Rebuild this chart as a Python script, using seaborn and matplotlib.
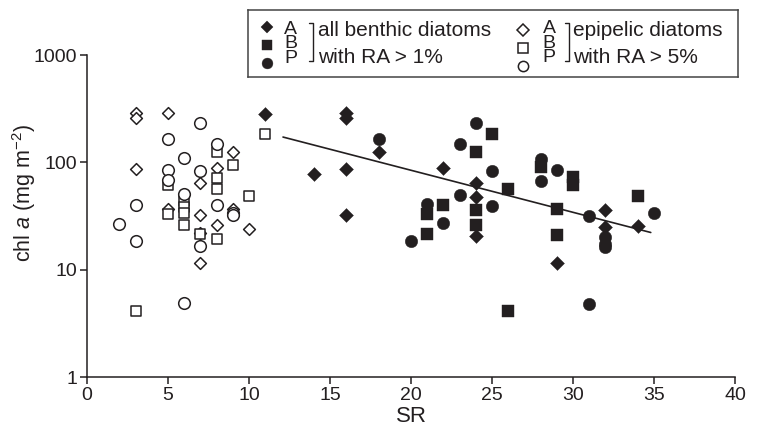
import matplotlib
matplotlib.use("Agg")
import matplotlib.pyplot as plt
import seaborn as sns
import pandas as pd
from matplotlib.ticker import NullLocator

# all benthic diatoms with RA > 1% (filled markers)
ben_A_sr = [11, 14, 16, 16, 16, 16, 18, 22, 24, 24, 24, 29, 32, 32, 34]
ben_A_chl = [284, 78, 288, 260, 87, 32, 125, 89, 64, 48, 20.5, 11.6, 36, 25, 25.4]
ben_B_sr = [21, 21, 22, 24, 24, 24, 25, 26, 26, 28, 29, 29, 30, 30, 34]
ben_B_chl = [33, 21.7, 40, 125, 36, 26, 182, 56, 4.1, 91, 37, 21, 73, 61, 49]
ben_P_sr = [18, 20, 21, 22, 23, 23, 24, 25, 25, 28, 28, 29, 31, 31, 32, 32, 32, 35]
ben_P_chl = [164, 18.5, 41, 27, 147, 50, 232, 83, 39, 108, 67, 84, 31.5, 4.8, 20, 17.5, 16.3, 33.4]

# epipelic diatoms with RA > 5% (open markers)
epi_A_sr = [3, 3, 3, 5, 5, 7, 7, 7, 7, 8, 8, 9, 9, 10]
epi_A_chl = [286, 257, 86, 288, 37, 64, 32, 22, 11.6, 89, 26, 125, 37, 24]
epi_B_sr = [3, 5, 5, 6, 6, 6, 6, 7, 8, 8, 8, 8, 9, 10, 11]
epi_B_chl = [4.1, 62, 33, 44, 38, 34, 26, 21.4, 125, 72, 57, 19.5, 94, 49, 185]
epi_P_sr = [2, 3, 3, 5, 5, 5, 6, 6, 6, 7, 7, 7, 8, 8, 9, 9]
epi_P_chl = [26.5, 40, 18.5, 164, 84, 68, 110, 51, 4.9, 231, 83, 16.6, 149, 40, 34, 32]

# regression line (benthic)
fit_sr = [12.1, 34.8]
fit_chl = [172, 22.2]

x_ticks = [0, 5, 10, 15, 20, 25, 30, 35, 40]
y_ticks = [1, 10, 100, 1000]
y_tick_labels = ["1", "10", "100", "1000"]
taxa = ["A", "B", "P"]

rows = []
for group, data in [("benthic", [(ben_A_sr, ben_A_chl), (ben_B_sr, ben_B_chl), (ben_P_sr, ben_P_chl)]),
                    ("epipelic", [(epi_A_sr, epi_A_chl), (epi_B_sr, epi_B_chl), (epi_P_sr, epi_P_chl)])]:
    for taxon, (xs, ys) in zip(taxa, data):
        for x, y in zip(xs, ys):
            rows.append({"group": group, "taxon": taxon, "SR": x, "chl": y})
df = pd.DataFrame(rows)

sns.set_theme(style="ticks")
plt.rcParams["font.family"] = ["Liberation Sans", "DejaVu Sans"]
plt.rcParams["mathtext.fontset"] = "custom"
plt.rcParams["mathtext.rm"] = "Liberation Sans"
plt.rcParams["mathtext.it"] = "Liberation Sans:italic"

ink = "#231f20"
markers = {"A": "D", "B": "s", "P": "o"}
filled_size = {"A": 50, "B": 66, "P": 80}
open_size = {"A": 36, "B": 62, "P": 70}

fig = plt.figure(figsize=(7.6, 4.37), dpi=100)
ax = fig.add_axes([87 / 760, 1 - 377 / 437, 648 / 760, 322 / 437])

for taxon in taxa:
    sub = df[(df["group"] == "epipelic") & (df["taxon"] == taxon)]
    sns.scatterplot(data=sub, x="SR", y="chl", marker=markers[taxon], s=open_size[taxon],
                    color="white", edgecolor=ink, linewidth=1.1, ax=ax, zorder=3)

for taxon in taxa:
    sub = df[(df["group"] == "benthic") & (df["taxon"] == taxon)]
    sns.scatterplot(data=sub, x="SR", y="chl", marker=markers[taxon], s=filled_size[taxon],
                    color=ink, edgecolor=ink, linewidth=0.3, ax=ax, zorder=4)

ax.plot(fit_sr, fit_chl, color=ink, linewidth=1.2, zorder=5)

ax.set_yscale("log")
ax.set_xlim(0, 40)
ax.set_ylim(1, 1000)
ax.set_xticks(x_ticks)
ax.set_yticks(y_ticks)
ax.set_yticklabels(y_tick_labels)
ax.yaxis.set_minor_locator(NullLocator())
ax.tick_params(axis="both", direction="out", length=5, width=1.1, colors=ink, labelsize=14, pad=2)
sns.despine(ax=ax)
for side in ["left", "bottom"]:
    ax.spines[side].set_linewidth(1.1)
    ax.spines[side].set_color(ink)

ax.set_xlabel("SR", fontsize=16, color=ink, labelpad=2)
ax.set_ylabel(r"chl $a$ (mg m$^{-2}$)", fontsize=15.5, color=ink)
ax.yaxis.set_label_coords(-0.076, 0.57)

# legend box drawn in pixel coordinates
lax = fig.add_axes([248 / 760, 1 - 77 / 437, 490 / 760, 67 / 437])
lax.set_xlim(248, 738)
lax.set_ylim(77, 10)
lax.set_xticks([])
lax.set_yticks([])
for sp in lax.spines.values():
    sp.set_visible(True)
    sp.set_linewidth(1.1)
    sp.set_color("#444444")

for taxon, my in zip(taxa, [27, 45, 63]):
    lax.plot([266.5], [my], marker=markers[taxon], color=ink, markersize=6.6 if taxon == "A" else 7.8,
             markeredgewidth=0.3, linestyle="none")
for taxon, my in zip(taxa, [30, 48, 66]):
    lax.plot([523], [my], marker=markers[taxon], markerfacecolor="white", markeredgecolor=ink,
             markersize=5.8 if taxon == "A" else 7.4, markeredgewidth=1.1, linestyle="none")
lax.text(290.5, 44, "A\nB\nP", ha="center", va="center", fontsize=14, linespacing=0.82, color=ink)
lax.text(549, 43, "A\nB\nP", ha="center", va="center", fontsize=14, linespacing=0.82, color=ink)

for bx in [313, 569]:
    lax.plot([bx - 4, bx, bx, bx - 4], [23, 23, 61, 61], color=ink, linewidth=1.0)

lax.text(318, 36, "all benthic diatoms", ha="left", va="baseline", fontsize=15, color=ink)
lax.text(318, 63, "with RA > 1%", ha="left", va="baseline", fontsize=15, color=ink)
lax.text(573, 36, "epipelic diatoms", ha="left", va="baseline", fontsize=15, color=ink)
lax.text(573, 63, "with RA > 5%", ha="left", va="baseline", fontsize=15, color=ink)

fig.savefig("out.png", dpi=100)
